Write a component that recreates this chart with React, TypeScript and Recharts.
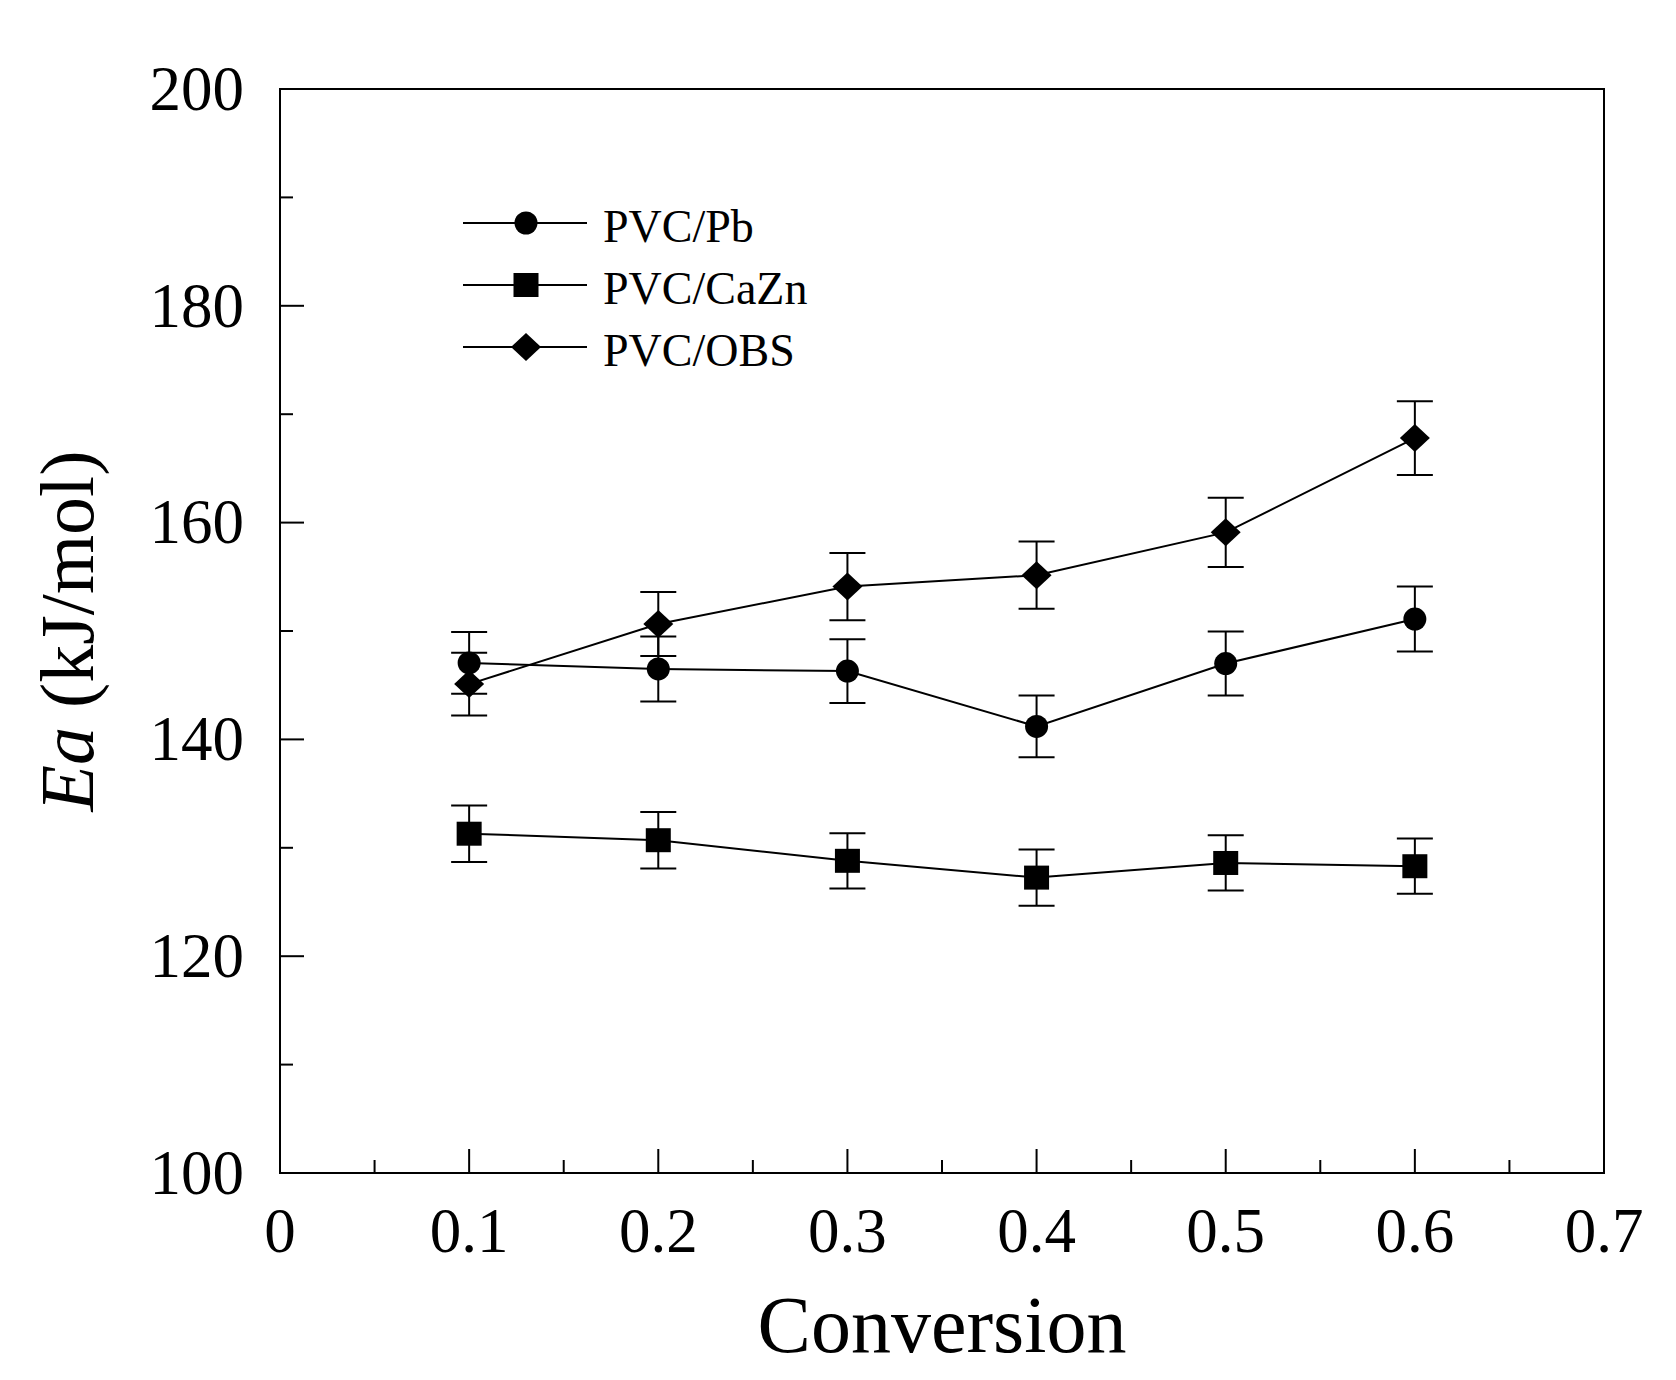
import { LineChart, Line, XAxis, YAxis, ErrorBar, ReferenceArea, Legend, Label } from 'recharts';

const conversion = [0.1, 0.2, 0.3, 0.4, 0.5, 0.6];
const pbEa = [147.05, 146.5, 146.3, 141.2, 147.0, 151.1];
const pbErr = [2.85, 3.0, 2.95, 2.85, 2.95, 3.0];
const caznEa = [131.3, 130.7, 128.8, 127.25, 128.6, 128.3];
const caznErr = [2.6, 2.6, 2.55, 2.6, 2.55, 2.55];
const obsEa = [145.1, 150.65, 154.1, 155.15, 159.1, 167.8];
const obsErr = [2.9, 2.95, 3.1, 3.1, 3.2, 3.4];

const seriesNames = ['PVC/Pb', 'PVC/CaZn', 'PVC/OBS'];
const xTicks = [0, 0.05, 0.1, 0.15, 0.2, 0.25, 0.3, 0.35, 0.4, 0.45, 0.5, 0.55, 0.6, 0.65, 0.7];
const yTicks = [100, 110, 120, 130, 140, 150, 160, 170, 180, 190, 200];

const data = conversion.map((c, i) => ({
  c,
  pb: pbEa[i],
  pbErr: pbErr[i],
  cazn: caznEa[i],
  caznErr: caznErr[i],
  obs: obsEa[i],
  obsErr: obsErr[i],
}));

const FONT = '"Liberation Serif", "Times New Roman", serif';
const W = 1676;
const H = 1380;
const LEFT = 280;
const TOP = 89;
const RIGHT = 72;
const BOTTOM = 207;

// marker shapes
const Circle = ({ cx, cy }: any) => <circle cx={cx} cy={cy} r={11.5} fill="#000" />;
const Square = ({ cx, cy }: any) => <rect x={cx - 12.5} y={cy - 12} width={25} height={24} fill="#000" />;
const Diamond = ({ cx, cy }: any) => (
  <polygon points={`${cx},${cy - 14} ${cx + 15},${cy} ${cx},${cy + 14} ${cx - 15},${cy}`} fill="#000" />
);
const shapes = [Circle, Square, Diamond];

const isMajor = (v: number, step: number) => Math.abs(Math.round(v / step) * step - v) < 1e-6;

const XTick = ({ x, y, payload }: any) => {
  const v = payload.value;
  const major = isMajor(v, 0.1);
  return (
    <g>
      <line x1={x} x2={x} y1={y} y2={y - (major ? 24 : 13)} stroke="#000" strokeWidth={2} />
      {major && (
        <text x={x} y={y + 79} textAnchor="middle" fontSize={63} fontFamily={FONT} fill="#000">
          {v === 0 ? '0' : v.toFixed(1)}
        </text>
      )}
    </g>
  );
};

const YTick = ({ x, y, payload }: any) => {
  const v = payload.value;
  const major = v % 20 === 0;
  return (
    <g>
      <line x1={x} x2={x + (major ? 24 : 13)} y1={y} y2={y} stroke="#000" strokeWidth={2} />
      {major && (
        <text x={x - 36} y={y} dy="0.33em" textAnchor="end" fontSize={63} fontFamily={FONT} fill="#000">
          {v}
        </text>
      )}
    </g>
  );
};

const YTitle = () => {
  const cx = 66;
  const cy = TOP + (H - TOP - BOTTOM) / 2;
  return (
    <text
      x={cx}
      y={cy}
      dy="0.355em"
      transform={`rotate(-90, ${cx}, ${cy})`}
      textAnchor="middle"
      fontSize={76}
      fontFamily={FONT}
      fill="#000"
    >
      <tspan fontStyle="italic">Ea</tspan>
      <tspan> (kJ/mol)</tspan>
    </text>
  );
};

const LegendBox = () => (
  <svg width={420} height={210}>
    {seriesNames.map((name, i) => {
      const y = 43 + i * 62;
      const Shape = shapes[i];
      return (
        <g key={name}>
          <line x1={23} x2={147} y1={y} y2={y} stroke="#000" strokeWidth={2} />
          <Shape cx={86} cy={y} />
          <text x={163} y={y + 19} fontSize={46} fontFamily={FONT} fill="#000">
            {name}
          </text>
        </g>
      );
    })}
  </svg>
);

const keys = ['pb', 'cazn', 'obs'];

export default function App() {
  return (
    <div style={{ position: 'absolute', left: 0, top: 0, width: W, height: H, background: '#fff' }}>
      <LineChart width={W} height={H} data={data} margin={{ top: TOP, right: RIGHT, left: 0, bottom: 0 }}>
        <XAxis
          dataKey="c"
          type="number"
          domain={[0, 0.7]}
          ticks={xTicks}
          interval={0}
          height={BOTTOM}
          tickSize={0}
          tickMargin={0}
          axisLine={false}
          tick={<XTick />}
        >
          <Label
            value="Conversion"
            position="insideBottom"
            offset={28}
            fontSize={80}
            fontFamily={FONT}
            fill="#000"
          />
        </XAxis>
        <YAxis
          type="number"
          domain={[100, 200]}
          ticks={yTicks}
          interval={0}
          width={LEFT}
          tickSize={0}
          tickMargin={0}
          axisLine={false}
          tick={<YTick />}
        >
          <Label content={<YTitle />} />
        </YAxis>
        <ReferenceArea x1={0} x2={0.7} y1={100} y2={200} fill="none" stroke="#000" strokeWidth={2} />
        {keys.map((k, i) => {
          const Shape = shapes[i];
          return (
            <Line
              key={k}
              dataKey={k}
              name={seriesNames[i]}
              stroke="#000"
              strokeWidth={2}
              isAnimationActive={false}
              dot={(p: any) => <Shape key={`${k}-${p.index}`} cx={p.cx} cy={p.cy} />}
              activeDot={false}
            >
              <ErrorBar dataKey={`${k}Err`} width={18} strokeWidth={2} stroke="#000" direction="y" />
            </Line>
          );
        })}
        <Legend
          layout="vertical"
          align="center"
          verticalAlign="middle"
          content={<LegendBox />}
          wrapperStyle={{ left: 440, top: 180, width: 420, height: 210 }}
        />
      </LineChart>
    </div>
  );
}
